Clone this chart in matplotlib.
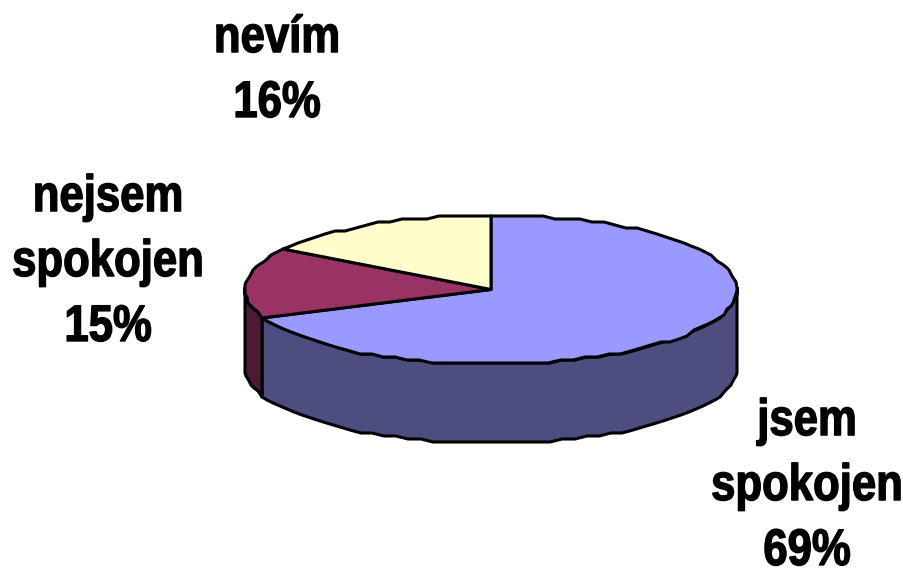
import numpy as np
import matplotlib
matplotlib.use("Agg")
import matplotlib.pyplot as plt
from matplotlib.patheffects import AbstractPathEffect
from matplotlib.transforms import Affine2D

# Satisfaction survey shares
categories = ["jsem\nspokojen", "nejsem\nspokojen", "nevím"]
shares = [69, 15, 16]
top_colors = ["#9999FF", "#993366", "#FFFFCC"]
side_colors = ["#4D4D80", "#4D1A33", "#808066"]

CX, CY = 491.0, 289.5
RX, RY = 246.0, 74.5
DEPTH = 79
GRID_X, GRID_Y = 1.0, 3.0
STEP = 3.0
NARROW = 0.85
label_anchor = [(807, 565), (108, 341), (277, 117)]

plt.rcParams["font.family"] = ["Liberation Sans"]

fig = plt.figure(figsize=(9.04, 5.70), dpi=100)
ax = fig.add_axes([0, 0, 1, 1])
ax.set_xlim(0, 904)
ax.set_ylim(570, 0)
ax.axis("off")


class Condensed(AbstractPathEffect):
    """Narrows the glyphs around a vertical axis and thickens their stems."""

    def __init__(self, center, factor, weight):
        super().__init__()
        self.center, self.factor, self.weight = center, factor, weight

    def draw_path(self, renderer, gc, tpath, affine, rgbFace=None):
        squeeze = Affine2D().translate(-self.center, 0).scale(self.factor, 1).translate(self.center, 0)
        gc0 = renderer.new_gc()
        gc0.copy_properties(gc)
        gc0.set_linewidth(self.weight)
        gc0.set_foreground("black")
        renderer.draw_path(gc0, tpath, affine + squeeze, rgbFace)
        gc0.restore()


def rim(t0, t1, drop=0.0):
    """Points along the disc edge, clockwise angle from 12 o'clock, on a coarse grid."""
    n = max(2, int(abs(t1 - t0) / STEP) + 1)
    t = np.radians(np.linspace(t0, t1, n))
    x = np.round((CX + RX * np.sin(t)) / GRID_X) * GRID_X
    y = np.round((CY - RY * np.cos(t)) / GRID_Y) * GRID_Y + drop
    return x, y


edges = np.concatenate([[0], np.cumsum(shares)]) / np.sum(shares) * 360.0
style = dict(edgecolor="black", linewidth=2.2, joinstyle="round")

# Side wall, only the front half of the disc is visible
for i in range(len(shares)):
    a, b = max(edges[i], 90.0), min(edges[i + 1], 270.0)
    if a >= b:
        continue
    xt, yt = rim(a, b)
    xb, yb = rim(a, b, DEPTH)
    ax.fill(np.r_[xt, xb[::-1]], np.r_[yt, yb[::-1]], facecolor=side_colors[i], **style)

# Top face
for i in range(len(shares)):
    xt, yt = rim(edges[i], edges[i + 1])
    ax.fill(np.r_[CX, xt], np.r_[CY, yt], facecolor=top_colors[i], **style)

# Labels
for name, val, (lx, ly) in zip(categories, shares, label_anchor):
    axis_px = ax.transData.transform((lx, ly))[0]
    ax.text(lx, ly, f"{name}\n{val}%", ha="center", va="baseline", multialignment="center",
            fontsize=37, fontweight="bold", color="black", linespacing=1.42,
            path_effects=[Condensed(axis_px, NARROW, 1.0)])

fig.savefig("out.png", dpi=100, facecolor="white")
